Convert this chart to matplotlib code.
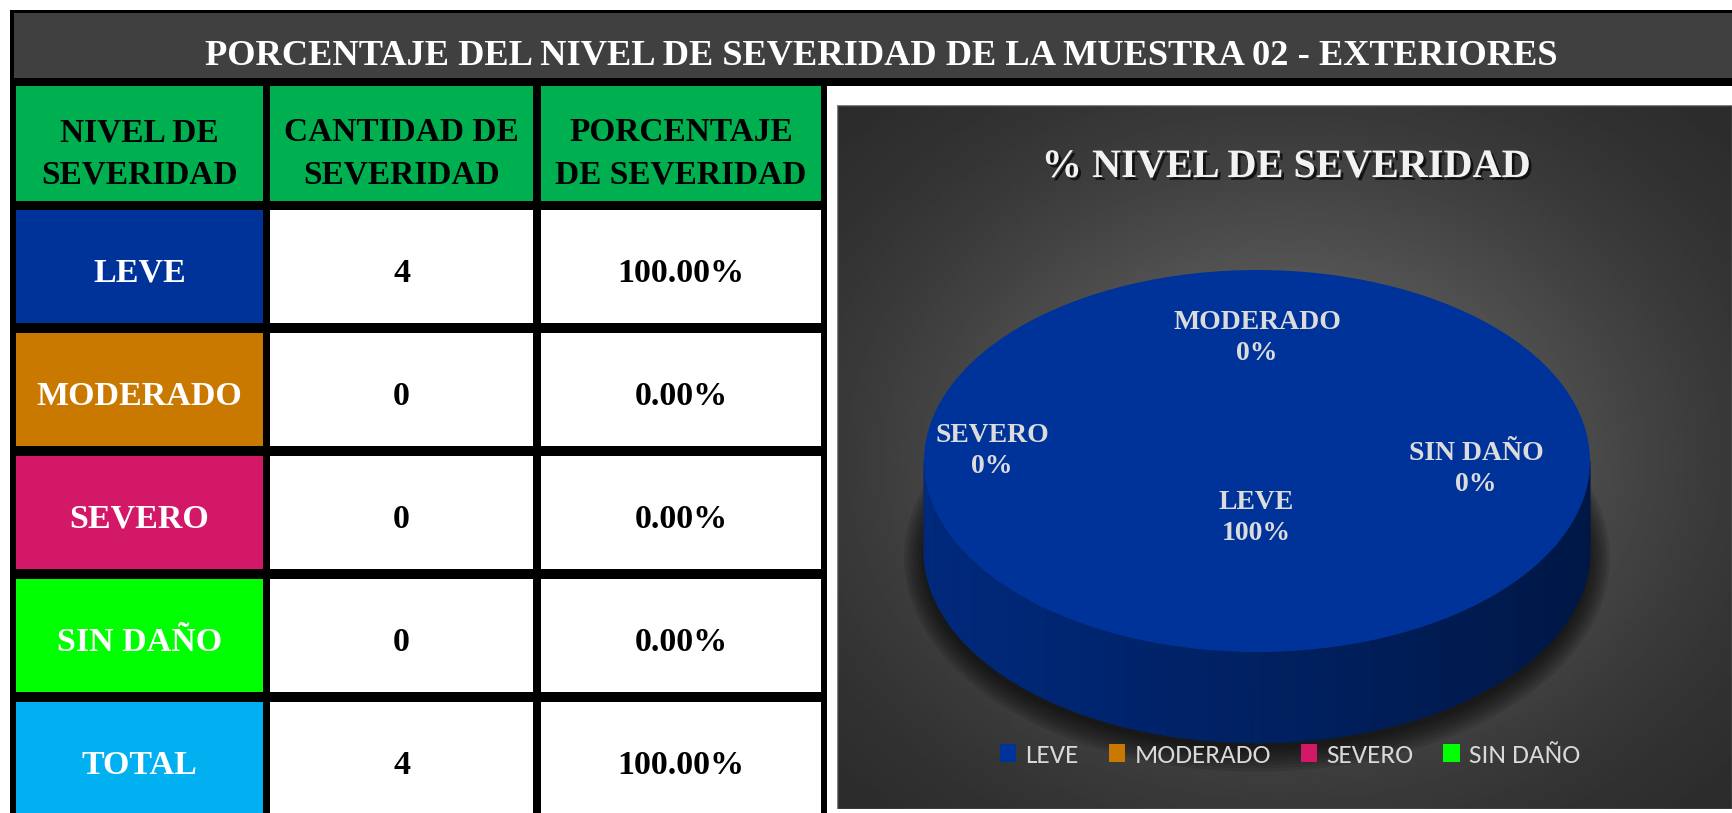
import numpy as np
import matplotlib
matplotlib.use('Agg')
import matplotlib.pyplot as plt
from matplotlib import patheffects
from matplotlib.patches import Rectangle, Ellipse

levels = ['LEVE', 'MODERADO', 'SEVERO', 'SIN DAÑO']
counts = [4, 0, 0, 0]
level_colors = ['#003399', '#C97800', '#D21867', '#00FF00']
total_label = 'TOTAL'
total_color = '#00B0F0'
headers = ['NIVEL DE\nSEVERIDAD', 'CANTIDAD DE\nSEVERIDAD', 'PORCENTAJE\nDE SEVERIDAD']
title = 'PORCENTAJE DEL NIVEL DE SEVERIDAD DE LA MUESTRA 02 - EXTERIORES'
chart_title = '% NIVEL DE SEVERIDAD'

W, H = 1732, 813
SERIF = 'Liberation Serif'
LEG_FONT = 'Carlito'


def main():
    total = sum(counts)
    pcts = [c / total * 100 for c in counts]
    rows = [[lv, str(c), f'{p:.2f}%'] for lv, c, p in zip(levels, counts, pcts)]
    rows.append([total_label, str(total), f'{sum(pcts):.2f}%'])
    first_col = level_colors + [total_color]

    fig = plt.figure(figsize=(W / 100, H / 100), dpi=100)
    fig.patch.set_facecolor('white')

    # ---- table side, pixel coordinates ----
    ax = fig.add_axes([0, 0, 1, 1])
    ax.set_xlim(0, W)
    ax.set_ylim(H, 0)
    ax.axis('off')

    ax.add_patch(Rectangle((10, 10), W - 10, 76, color='black', lw=0))
    ax.add_patch(Rectangle((14, 13), W - 14, 65, color='#404040', lw=0))
    ax.add_patch(Rectangle((10, 86), 817, H - 86, color='black', lw=0))
    ax.text(881, 65, title, ha='center', va='baseline', color='white',
            fontsize=26.2, fontweight='bold', family=SERIF)

    col_x = [16, 270, 541]
    col_w = [247, 263, 280]
    for x, w, txt in zip(col_x, col_w, headers):
        ax.add_patch(Rectangle((x, 86), w, 115, color='#00B050', lw=0))
        ax.text(x + w / 2, 183, txt, ha='center', va='baseline', color='black',
                fontsize=24, fontweight='bold', family=SERIF, linespacing=1.45)

    row_y0, row_step, row_h = 210, 123, 113
    for i, row in enumerate(rows):
        y = row_y0 + i * row_step
        for j, (x, w, txt) in enumerate(zip(col_x, col_w, row)):
            fc = first_col[i] if j == 0 else 'white'
            tc = 'white' if j == 0 else 'black'
            ax.add_patch(Rectangle((x, y), w, row_h, color=fc, lw=0))
            ax.text(x + w / 2, y + row_h / 2 + 15, txt, ha='center', va='baseline',
                    color=tc, fontsize=24.5, fontweight='bold', family=SERIF)

    # ---- chart panel ----
    PX, PY, RX, RY = 1257, 461, 333, 191
    depth = 91 / RY
    left, right, top, bottom = 837, W, 105, 809
    axp = fig.add_axes([left / W, (H - bottom) / H, (right - left) / W, (bottom - top) / H])
    xlim = ((left - PX) / RX, (right - PX) / RX)
    ylim = ((PY - bottom) / RY, (PY - top) / RY)

    # radial grey background
    gx, gy = np.meshgrid(np.linspace(-1, 1, 300), np.linspace(-1, 1, 300))
    r = np.sqrt(gx ** 2 + gy ** 2)
    shade = 0.15 + 0.25 * np.exp(-(r / 0.9) ** 2)
    axp.imshow(shade, cmap='gray', vmin=0, vmax=1, extent=(*xlim, ylim[1], ylim[0]),
               aspect='auto', zorder=0, interpolation='bilinear')

    # shadow below the cylinder
    for k in np.linspace(0.06, 0.0, 8):
        axp.add_patch(Ellipse((0, -depth - 0.03), 2 * (1 + k), 2 * (1 + k * 2.0),
                              color='black', alpha=0.1, lw=0, zorder=0.5))

    wedges, _ = axp.pie(counts, colors=level_colors, startangle=90, counterclock=False,
                        radius=1, center=(0, 0), wedgeprops=dict(linewidth=0))
    for w in wedges:
        w.set_zorder(2)

    # side wall of the 3d pie
    for w, col in zip(wedges, level_colors):
        t1, t2 = w.theta1, w.theta2
        if t2 - t1 <= 0:
            continue
        base = np.array(matplotlib.colors.to_rgb(col))
        for k in range(-2, 2):
            a = max(t1, 180 + 360 * k)
            b = min(t2, 360 + 360 * k)
            if b <= a:
                continue
            angs = np.linspace(a, b, int((b - a) / 1.5) + 2)
            for a0, a1 in zip(angs[:-1], angs[1:]):
                th = np.radians([a0, a1])
                xs = np.cos(th)
                ys = np.sin(th)
                f = 0.82 - 0.36 * (np.cos(np.radians((a0 + a1) / 2)) + 1) / 2
                axp.fill([xs[0], xs[1], xs[1], xs[0]],
                         [ys[0], ys[1], ys[1] - depth, ys[0] - depth],
                         color=base * f, lw=0.4, ec=base * f, zorder=1)

    axp.set_aspect('auto')
    axp.set_xlim(*xlim)
    axp.set_ylim(*ylim)
    axp.axis('off')
    axp.add_patch(Rectangle((0, 0), 1, 1, transform=axp.transAxes, fc='none',
                            ec='#808080', lw=1, zorder=6))

    def to_pie(x, y):
        return (x - PX) / RX, (PY - y) / RY

    shadow = [patheffects.withSimplePatchShadow(offset=(2, -2), shadow_rgbFace='black', alpha=0.7)]
    axp.text(*to_pie(1286, 177), chart_title, ha='center', va='baseline', color='#F2F2F2',
             fontsize=29, fontweight='bold', family=SERIF, path_effects=shadow)

    label_px = [(1256, 540), (1257, 360), (992, 473), (1476, 491)]
    for (x, y), lv, p in zip(label_px, levels, pcts):
        axp.text(*to_pie(x, y), f'{lv}\n{p:.0f}%', ha='center', va='baseline',
                 color='#DCDCDC', fontsize=20, fontweight='bold', family=SERIF,
                 linespacing=1.3, zorder=5)

    axp.legend(wedges, levels, loc='center', ncol=4, frameon=False,
               bbox_to_anchor=((1290 - left) / (right - left), (bottom - 755) / (bottom - top)),
               prop=dict(family=LEG_FONT, size=19.5), labelcolor='#D9D9D9',
               handlelength=0.6, handleheight=0.6, handletextpad=0.35, columnspacing=1.1)

    fig.savefig('out.png', dpi=100, facecolor='white')


if __name__ == '__main__':
    main()
